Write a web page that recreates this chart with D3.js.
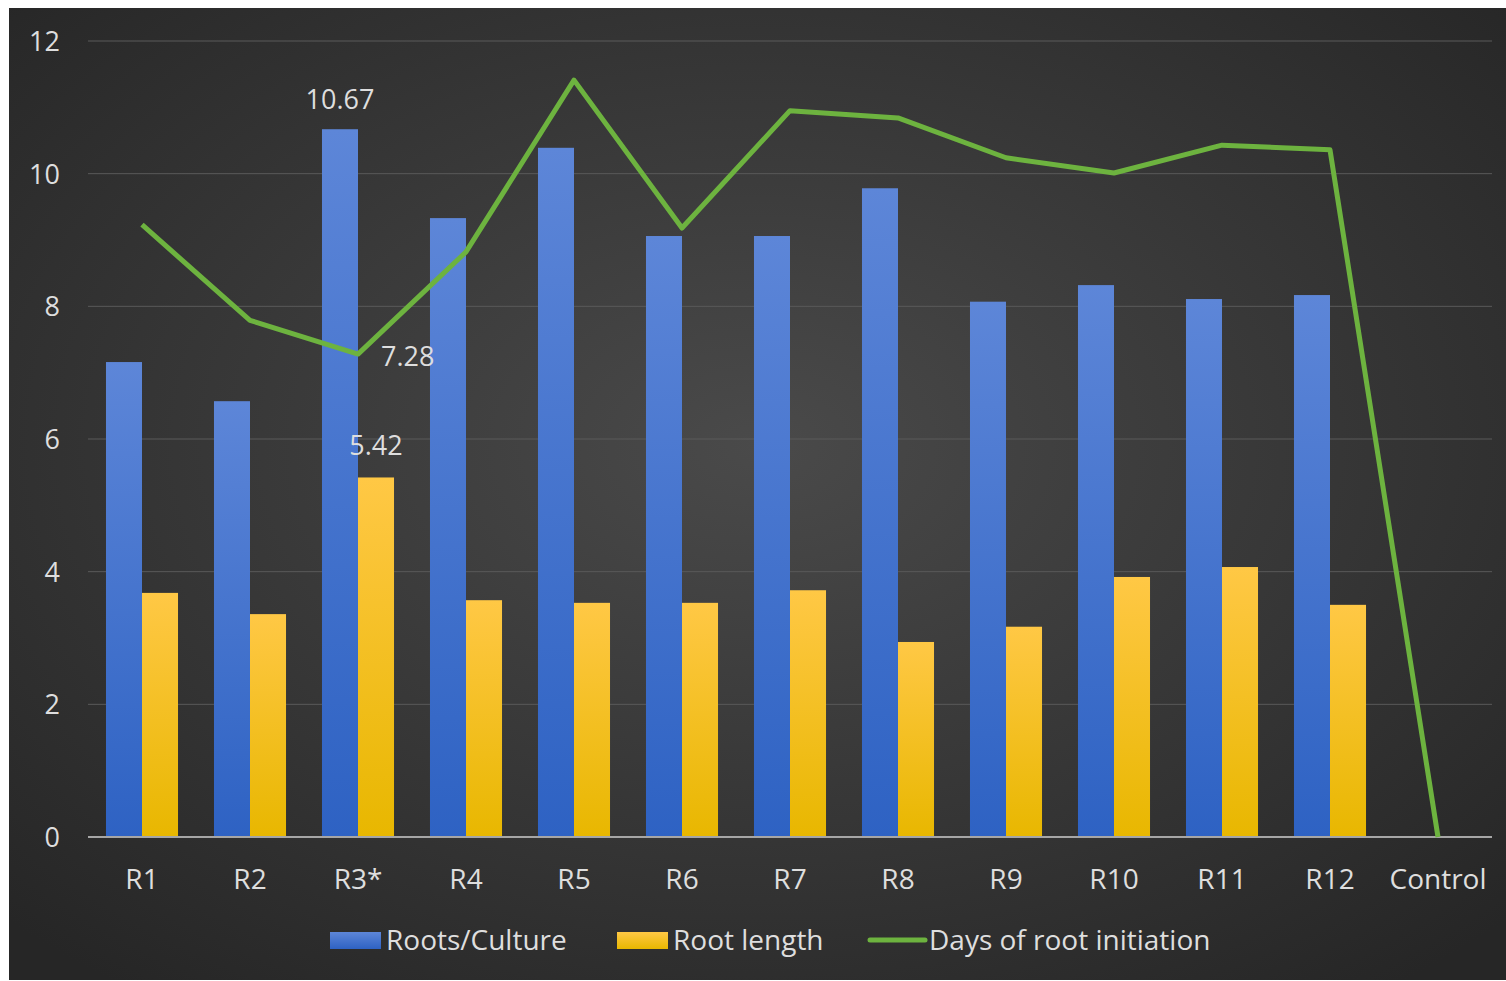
<!DOCTYPE html>
<html>
<head>
<meta charset="utf-8">
<script src="https://cdn.jsdelivr.net/npm/d3@7"></script>
<style>
  body { margin: 0; background: #fff; }
  svg text { font-family: "Open Sans", "Noto Sans", sans-serif; fill: #dedede; }
</style>
</head>
<body>
<div id="chart"></div>
<script>
const categories = ["R1","R2","R3*","R4","R5","R6","R7","R8","R9","R10","R11","R12","Control"];
const rootsCulture = [7.16,6.57,10.67,9.33,10.39,9.06,9.06,9.78,8.07,8.32,8.11,8.17,0];
const rootLength = [3.68,3.36,5.42,3.57,3.53,3.53,3.72,2.94,3.17,3.92,4.07,3.50,0];
const daysInit = [9.23,7.79,7.28,8.82,11.41,9.18,10.95,10.84,10.24,10.01,10.43,10.36,0];
const yTicks = [0,2,4,6,8,10,12];
const seriesNames = ["Roots/Culture","Root length","Days of root initiation"];

const W = 1506, H = 981;
const plotLeft = 88, plotRight = 1492, plotTop = 41, plotBottom = 837;

const svg = d3.select("#chart").append("svg").attr("width",W).attr("height",H);
const defs = svg.append("defs");

// background gradient
const bg = defs.append("radialGradient").attr("id","bg")
  .attr("cx","50%").attr("cy","45%").attr("r","70%");
bg.append("stop").attr("offset","0%").attr("stop-color","#4a4a4a");
bg.append("stop").attr("offset","100%").attr("stop-color","#262626");

const blueG = defs.append("linearGradient").attr("id","blueG").attr("x1",0).attr("y1",0).attr("x2",0).attr("y2",1);
blueG.append("stop").attr("offset","0%").attr("stop-color","#5d86d8");
blueG.append("stop").attr("offset","100%").attr("stop-color","#2e62c3");

const yelG = defs.append("linearGradient").attr("id","yelG").attr("x1",0).attr("y1",0).attr("x2",0).attr("y2",1);
yelG.append("stop").attr("offset","0%").attr("stop-color","#ffc845");
yelG.append("stop").attr("offset","100%").attr("stop-color","#e8b700");

svg.append("rect").attr("x",9).attr("y",8).attr("width",W-9).attr("height",980-8).attr("fill","url(#bg)");

const x = d3.scaleBand().domain(categories).range([plotLeft,plotRight]).paddingInner(0.333).paddingOuter(0.1665);
const x1 = d3.scaleBand().domain([0,1]).range([0,x.bandwidth()]);
const y = d3.scaleLinear().domain([0,12]).range([plotBottom,plotTop]);

// gridlines
svg.append("g").selectAll("line").data(yTicks.filter(d=>d>0)).enter().append("line")
  .attr("x1",plotLeft).attr("x2",plotRight)
  .attr("y1",d=>y(d)).attr("y2",d=>y(d))
  .attr("stroke","#5a5a5a").attr("stroke-width",1);

// y labels
svg.append("g").selectAll("text").data(yTicks).enter().append("text")
  .attr("x",60).attr("y",d=>y(d)+10)
  .attr("text-anchor","end").attr("font-size",27)
  .text(d=>d);

// bars
const groups = svg.append("g").selectAll("g").data(categories).enter().append("g")
  .attr("transform",d=>`translate(${x(d)},0)`);

groups.append("rect")
  .attr("x",x1(0)).attr("width",x1.bandwidth())
  .attr("y",(d,i)=>y(rootsCulture[i])).attr("height",(d,i)=>plotBottom-y(rootsCulture[i]))
  .attr("fill","url(#blueG)");

groups.append("rect")
  .attr("x",x1(1)).attr("width",x1.bandwidth())
  .attr("y",(d,i)=>y(rootLength[i])).attr("height",(d,i)=>plotBottom-y(rootLength[i]))
  .attr("fill","url(#yelG)");

// axis line
svg.append("line").attr("x1",plotLeft).attr("x2",plotRight)
  .attr("y1",plotBottom).attr("y2",plotBottom)
  .attr("stroke","#a6a6a6").attr("stroke-width",2);

// line
const line = d3.line()
  .x((d,i)=>x(categories[i])+x.bandwidth()/2)
  .y(d=>y(d));
svg.append("path").datum(daysInit).attr("d",line)
  .attr("fill","none").attr("stroke","#6db33f").attr("stroke-width",5).attr("stroke-linejoin","round");

// data labels on R3
const r3 = categories.indexOf("R3*");
svg.append("text").attr("x",x("R3*")+x1(0)+x1.bandwidth()/2).attr("y",y(rootsCulture[r3])-20)
  .attr("text-anchor","middle").attr("font-size",27).text(rootsCulture[r3].toFixed(2));
svg.append("text").attr("x",x("R3*")+x1(1)+x1.bandwidth()/2).attr("y",y(rootLength[r3])-22)
  .attr("text-anchor","middle").attr("font-size",27).text(rootLength[r3].toFixed(2));
svg.append("text").attr("x",x("R3*")+x.bandwidth()/2+23).attr("y",y(daysInit[r3])+12)
  .attr("text-anchor","start").attr("font-size",27).text(daysInit[r3].toFixed(2));

// category labels
svg.append("g").selectAll("text").data(categories).enter().append("text")
  .attr("x",d=>x(d)+x.bandwidth()/2).attr("y",889)
  .attr("text-anchor","middle").attr("font-size",28)
  .text(d=>d);

// legend
const leg = svg.append("g");
const legItems = [
  {name:seriesNames[0], x:330, type:"rect", fill:"url(#blueG)"},
  {name:seriesNames[1], x:617, type:"rect", fill:"url(#yelG)"},
  {name:seriesNames[2], x:870, type:"line", fill:"#6db33f"}
];
legItems.forEach(it=>{
  if(it.type==="rect"){
    leg.append("rect").attr("x",it.x).attr("y",932).attr("width",51).attr("height",17).attr("fill",it.fill);
  } else {
    leg.append("line").attr("x1",it.x).attr("x2",it.x+55).attr("y1",940).attr("y2",940)
      .attr("stroke",it.fill).attr("stroke-width",5).attr("stroke-linecap","round");
  }
  leg.append("text").attr("x",it.x+(it.type==="rect"?56:59)).attr("y",950).attr("font-size",28).text(it.name);
});
</script>
</body>
</html>
